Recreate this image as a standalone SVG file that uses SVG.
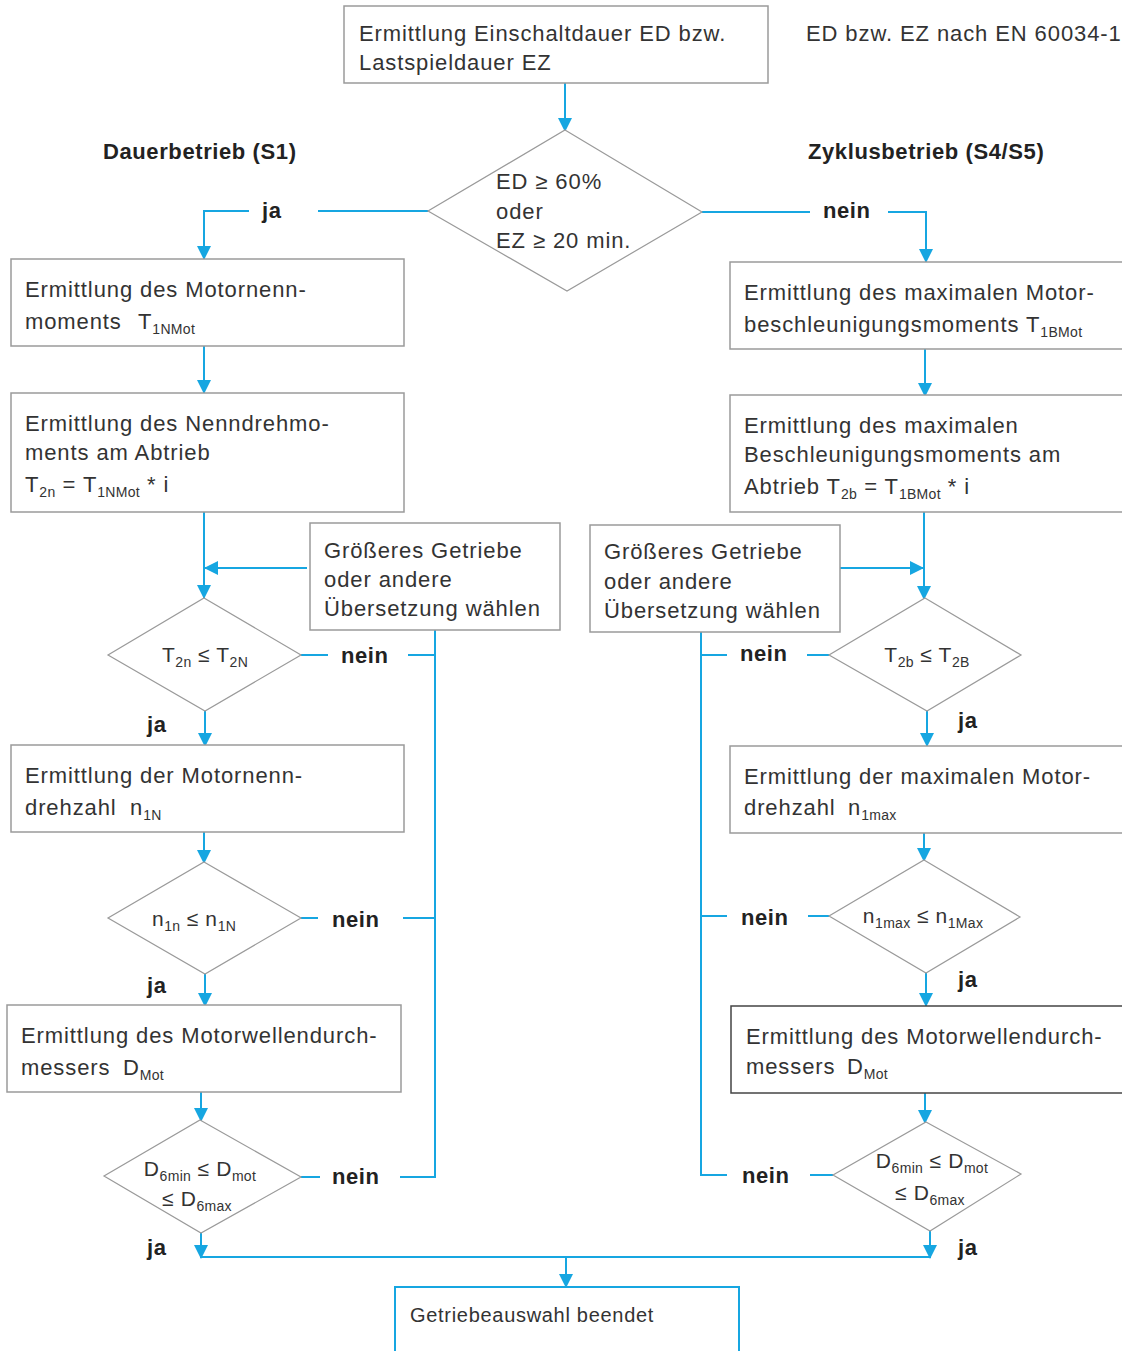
<svg xmlns="http://www.w3.org/2000/svg" width="1122" height="1351" viewBox="0 0 1122 1351">
<style>
.box{fill:#fff;stroke:#9a9a9a;stroke-width:1.5}
.dia{fill:#fff;stroke:#9a9a9a;stroke-width:1.2}
.t{font-family:"Liberation Sans",Arial,sans-serif;font-size:22px;letter-spacing:0.9px;fill:#333}
.d{font-family:"Liberation Sans",Arial,sans-serif;font-size:21px;letter-spacing:0.6px;fill:#333}
.sub{font-size:14px;letter-spacing:0.3px}
.b{font-family:"Liberation Sans",Arial,sans-serif;font-size:22px;font-weight:bold;letter-spacing:0.6px;fill:#222}
.c{fill:none;stroke:#16a6e1;stroke-width:2}
.a{fill:none;stroke:#16a6e1;stroke-width:2;marker-end:url(#ah)}
</style>
<defs>
<marker id="ah" viewBox="0 0 14 14" refX="13" refY="7" markerWidth="14" markerHeight="14" orient="auto" markerUnits="userSpaceOnUse">
<path d="M0,0 L14,7 L0,14 z" fill="#16a6e1"/>
</marker>
</defs>
<rect width="1122" height="1351" fill="#fff"/>

<g id="connectors">
<path class="a" d="M565,83 V131"/>
<path class="c" d="M428,211 H318"/>
<path class="a" d="M249,211 H204 V259"/>
<path class="c" d="M702,212 H810"/>
<path class="a" d="M888,212 H926 V262"/>
<path class="a" d="M204,346 V393"/>
<path class="a" d="M204,512 V598"/>
<path class="a" d="M307,568 H205"/>
<path class="c" d="M301,655 H328"/>
<path class="c" d="M408,655 H435"/>
<path class="c" d="M435,630 V1177 H400"/>
<path class="c" d="M301,918 H318"/>
<path class="c" d="M403,918 H435"/>
<path class="c" d="M301,1177 H320"/>
<path class="a" d="M205,711 V746"/>
<path class="a" d="M204,832 V863"/>
<path class="a" d="M205,974 V1006"/>
<path class="a" d="M201,1092 V1121"/>
<path class="a" d="M201,1233 V1258"/>
<path class="c" d="M201,1257 H930"/>
<path class="a" d="M566,1257 V1287"/>
<path class="a" d="M925,349 V396"/>
<path class="a" d="M924,512 V599"/>
<path class="a" d="M840,568 H923"/>
<path class="c" d="M829,655 H807"/>
<path class="c" d="M727,655 H701"/>
<path class="c" d="M701,632 V1175 H727"/>
<path class="c" d="M701,916 H727"/>
<path class="c" d="M808,916 H829"/>
<path class="c" d="M810,1175 H833"/>
<path class="a" d="M927,711 V746"/>
<path class="a" d="M924,833 V861"/>
<path class="a" d="M926,973 V1006"/>
<path class="a" d="M925,1093 V1123"/>
<path class="a" d="M930,1231 V1258"/>
</g>

<g id="labels">
<text class="b" x="103" y="159">Dauerbetrieb (S1)</text>
<text class="b" x="808" y="159">Zyklusbetrieb (S4/S5)</text>
<text class="t" x="806" y="41">ED bzw. EZ nach EN 60034-1</text>
<text class="b" x="262" y="218">ja</text>
<text class="b" x="823" y="218">nein</text>
<text class="b" x="341" y="663">nein</text>
<text class="b" x="147" y="732">ja</text>
<text class="b" x="332" y="927">nein</text>
<text class="b" x="147" y="993">ja</text>
<text class="b" x="332" y="1184">nein</text>
<text class="b" x="147" y="1255">ja</text>
<text class="b" x="740" y="661">nein</text>
<text class="b" x="958" y="728">ja</text>
<text class="b" x="741" y="925">nein</text>
<text class="b" x="958" y="987">ja</text>
<text class="b" x="742" y="1183">nein</text>
<text class="b" x="958" y="1255">ja</text>
</g>

<g id="start">
<rect class="box" x="344" y="6" width="424" height="77"/>
<text class="t" x="359" y="41">Ermittlung Einschaltdauer ED bzw.</text>
<text class="t" x="359" y="70">Lastspieldauer EZ</text>
</g>

<g id="decision-ed">
<polygon class="dia" points="565,130 702,212 567,291 428,211"/>
<text class="t" x="496" y="189">ED ≥ 60%</text>
<text class="t" x="496" y="219">oder</text>
<text class="t" x="496" y="248">EZ ≥ 20 min.</text>
</g>

<g id="l-box1">
<rect class="box" x="11" y="259" width="393" height="87"/>
<text class="t" x="25" y="297">Ermittlung des Motornenn-</text>
<text class="t" x="25" y="329">moments<tspan x="138">T</tspan><tspan class="sub" dy="5">1NMot</tspan></text>
</g>

<g id="l-box2">
<rect class="box" x="11" y="393" width="393" height="119"/>
<text class="t" x="25" y="431">Ermittlung des Nenndrehmo-</text>
<text class="t" x="25" y="460">ments am Abtrieb</text>
<text class="t" x="25" y="492">T<tspan class="sub" dy="5">2n</tspan><tspan dy="-5"> = T</tspan><tspan class="sub" dy="5">1NMot</tspan><tspan dy="-5"> * i</tspan></text>
</g>

<g id="l-retry">
<rect class="box" x="310" y="523" width="250" height="107"/>
<text class="t" x="324" y="558">Größeres Getriebe</text>
<text class="t" x="324" y="587">oder andere</text>
<text class="t" x="324" y="616">Übersetzung wählen</text>
</g>

<g id="l-dec2">
<polygon class="dia" points="204,598 301,655 205,711 108,655"/>
<text class="d" x="205" y="662" text-anchor="middle">T<tspan class="sub" dy="5">2n</tspan><tspan dy="-5"> ≤ T</tspan><tspan class="sub" dy="5">2N</tspan></text>
</g>

<g id="l-box3">
<rect class="box" x="11" y="745" width="393" height="87"/>
<text class="t" x="25" y="783">Ermittlung der Motornenn-</text>
<text class="t" x="25" y="815">drehzahl<tspan x="130">n</tspan><tspan class="sub" dy="5">1N</tspan></text>
</g>

<g id="l-dec3">
<polygon class="dia" points="204,862 301,918 205,974 108,918"/>
<text class="d" x="194" y="926" text-anchor="middle">n<tspan class="sub" dy="5">1n</tspan><tspan dy="-5"> ≤ n</tspan><tspan class="sub" dy="5">1N</tspan></text>
</g>

<g id="l-box4">
<rect class="box" x="7" y="1005" width="394" height="87"/>
<text class="t" x="21" y="1043">Ermittlung des Motorwellendurch-</text>
<text class="t" x="21" y="1075">messers<tspan x="123">D</tspan><tspan class="sub" dy="5">Mot</tspan></text>
</g>

<g id="l-dec4">
<polygon class="dia" points="200,1120 301,1177 201,1233 104,1176"/>
<text class="d" x="200" y="1176" text-anchor="middle">D<tspan class="sub" dy="5">6min</tspan><tspan dy="-5"> ≤ D</tspan><tspan class="sub" dy="5">mot</tspan></text>
<text class="d" x="197" y="1206" text-anchor="middle">≤ D<tspan class="sub" dy="5">6max</tspan></text>
</g>

<g id="r-box1">
<rect class="box" x="730" y="262" width="420" height="87"/>
<text class="t" x="744" y="300">Ermittlung des maximalen Motor-</text>
<text class="t" x="744" y="332">beschleunigungsmoments T<tspan class="sub" dy="5">1BMot</tspan></text>
</g>

<g id="r-box2">
<rect class="box" x="730" y="395" width="420" height="117"/>
<text class="t" x="744" y="433">Ermittlung des maximalen</text>
<text class="t" x="744" y="462">Beschleunigungsmoments am</text>
<text class="t" x="744" y="494">Abtrieb T<tspan class="sub" dy="5">2b</tspan><tspan dy="-5"> = T</tspan><tspan class="sub" dy="5">1BMot</tspan><tspan dy="-5"> * i</tspan></text>
</g>

<g id="r-retry">
<rect class="box" x="590" y="525" width="250" height="107"/>
<text class="t" x="604" y="559">Größeres Getriebe</text>
<text class="t" x="604" y="589">oder andere</text>
<text class="t" x="604" y="618">Übersetzung wählen</text>
</g>

<g id="r-dec2">
<polygon class="dia" points="925,598 1021,655 927,711 829,655"/>
<text class="d" x="927" y="662" text-anchor="middle">T<tspan class="sub" dy="5">2b</tspan><tspan dy="-5"> ≤ T</tspan><tspan class="sub" dy="5">2B</tspan></text>
</g>

<g id="r-box3">
<rect class="box" x="730" y="746" width="420" height="87"/>
<text class="t" x="744" y="784">Ermittlung der maximalen Motor-</text>
<text class="t" x="744" y="815">drehzahl<tspan x="848">n</tspan><tspan class="sub" dy="5">1max</tspan></text>
</g>

<g id="r-dec3">
<polygon class="dia" points="924,860 1020,917 926,973 829,916"/>
<text class="d" x="923" y="923" text-anchor="middle">n<tspan class="sub" dy="5">1max</tspan><tspan dy="-5">  ≤ n</tspan><tspan class="sub" dy="5">1Max</tspan></text>
</g>

<g id="r-box4">
<rect class="box" x="731" y="1006" width="420" height="87" style="stroke:#444"/>
<text class="t" x="746" y="1044">Ermittlung des Motorwellendurch-</text>
<text class="t" x="746" y="1074">messers<tspan x="847">D</tspan><tspan class="sub" dy="5">Mot</tspan></text>
</g>

<g id="r-dec4">
<polygon class="dia" points="926,1122 1021,1174 930,1231 833,1175"/>
<text class="d" x="932" y="1168" text-anchor="middle">D<tspan class="sub" dy="5">6min</tspan><tspan dy="-5"> ≤ D</tspan><tspan class="sub" dy="5">mot</tspan></text>
<text class="d" x="930" y="1200" text-anchor="middle">≤ D<tspan class="sub" dy="5">6max</tspan></text>
</g>

<g id="end">
<rect x="395" y="1287" width="344" height="90" fill="#fff" stroke="#16a6e1" stroke-width="2"/>
<text class="t" x="410" y="1322" style="font-size:20px;letter-spacing:0.7px">Getriebeauswahl beendet</text>
</g>
</svg>
